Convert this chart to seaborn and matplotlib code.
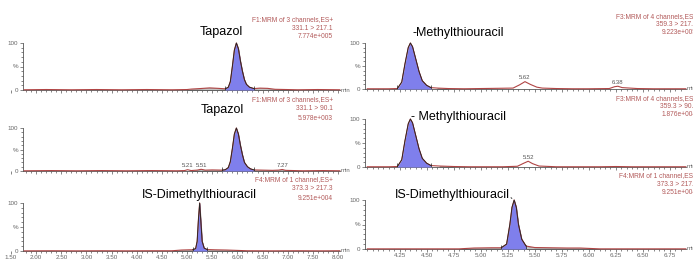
import numpy as np
import matplotlib
matplotlib.use('Agg')
import matplotlib.pyplot as plt
import matplotlib.ticker as mticker
import seaborn as sns

# --- Left column: Tapazol runs (time in min, intensity in %) ---
t_L1 = [1.76, 2.20, 2.70, 3.20, 3.70, 4.20, 4.70, 5.00, 5.09, 5.25, 5.45, 5.62, 5.76, 5.82, 5.86, 5.90,
        5.94, 5.98, 6.02, 6.06, 6.10, 6.14, 6.18, 6.24, 6.33, 6.45, 6.60, 6.75, 7.20, 7.60, 8.04]
y_L1 = [0.5, 1.0, 0.5, 1.0, 0.5, 1.0, 0.5, 1.0, 2.0, 3.0, 4.5, 3.5, 2.5, 6, 18, 50,
        85, 100, 88, 62, 40, 22, 12, 6, 3, 4, 3.5, 1.5, 0.5, 1.0, 0.5]

t_L2 = [1.76, 2.30, 2.80, 3.30, 3.80, 4.30, 4.80, 4.95, 5.01, 5.08, 5.20, 5.28, 5.36, 5.50, 5.70, 5.76,
        5.82, 5.86, 5.90, 5.94, 5.98, 6.02, 6.06, 6.10, 6.14, 6.20, 6.26, 6.33, 6.50, 6.70, 6.82, 6.89,
        6.96, 7.30, 7.70, 8.04]
y_L2 = [0.5, 1, 0.5, 1, 0.5, 1, 0.5, 1, 3, 1, 2, 4, 2, 2.5, 2, 3,
        8, 22, 52, 86, 100, 86, 60, 38, 20, 10, 5, 2.5, 2, 1.5, 2, 3.5,
        1.5, 0.5, 1, 0.5]

t_L3 = [1.76, 2.30, 2.80, 3.30, 3.80, 4.30, 4.70, 4.89, 5.05, 5.11, 5.17, 5.20, 5.225, 5.25, 5.275,
        5.30, 5.34, 5.40, 5.55, 5.78, 6.20, 6.70, 7.20, 7.70, 8.04]
y_L3 = [0.3, 0.5, 0.3, 0.5, 0.3, 0.5, 0.5, 2, 2.5, 2.5, 5, 20, 65, 100, 60,
        20, 6, 3, 2.5, 2, 0.5, 0.3, 0.5, 0.3, 0.5]

# --- Right column: Methylthiouracil runs ---
t_R1 = [3.95, 4.05, 4.15, 4.23, 4.27, 4.30, 4.33, 4.35, 4.37, 4.40, 4.43, 4.46, 4.50, 4.54, 4.60, 4.70,
        4.85, 5.00, 5.16, 5.30, 5.36, 5.41, 5.46, 5.52, 5.57, 5.70, 5.85, 6.00, 6.19, 6.24, 6.27, 6.31,
        6.45, 6.60, 6.75, 6.90]
y_R1 = [0.5, 0.5, 0.5, 1, 15, 55, 90, 100, 92, 65, 38, 18, 8, 3, 2, 1,
        0.5, 1, 1.5, 2, 9, 16, 10, 4, 2, 1, 0.5, 0.5, 1, 5, 6, 3,
        1, 0.5, 0.5, 0.5]

t_R2 = [3.95, 4.05, 4.15, 4.23, 4.27, 4.30, 4.33, 4.35, 4.37, 4.40, 4.43, 4.46, 4.50, 4.54, 4.62, 4.75,
        4.90, 5.05, 5.20, 5.34, 5.40, 5.44, 5.48, 5.54, 5.70, 5.90, 6.10, 6.25, 6.40, 6.60, 6.75, 6.90]
y_R2 = [0.5, 0.5, 0.5, 1, 15, 55, 90, 100, 92, 65, 38, 18, 8, 3, 2, 1,
        0.5, 0.5, 0.5, 1.5, 8, 12, 7, 2, 0.5, 0.5, 0.5, 1, 0.5, 0.5, 0.5, 0.5]

t_R3 = [3.95, 4.20, 4.50, 4.80, 4.94, 5.10, 5.19, 5.24, 5.27, 5.29, 5.31, 5.33, 5.35, 5.38, 5.42, 5.50,
        5.65, 5.80, 5.92, 6.10, 6.40, 6.70, 6.90]
y_R3 = [0.3, 0.3, 0.3, 0.3, 2, 2.5, 2.5, 10, 50, 85, 100, 85, 50, 20, 6, 3,
        2.5, 2, 2, 0.3, 0.3, 0.3, 0.3]

# integration windows, grey humps, small peak labels
integ = {'L1': (5.76, 6.33), 'L2': (5.70, 6.33), 'L3': (5.11, 5.40),
         'R1': (4.23, 4.54), 'R2': (4.23, 4.54), 'R3': (5.19, 5.42)}
grey = {'L1': (5.09, 6.75), 'L2': (5.20, 6.96), 'L3': (4.89, 5.78),
        'R1': (4.56, 4.64), 'R2': (4.58, 4.66), 'R3': (4.94, 5.92)}
peak_t = {'L2': [5.01, 5.28, 6.89], 'R1': [5.41, 6.27], 'R2': [5.44]}
peak_txt = {'L2': ['5.21', '5.51', '7.27'], 'R1': ['5.62', '6.38'], 'R2': ['5.52']}

headers = {
    'L1': ['F1:MRM of 3 channels,ES+', '331.1 > 217.1', '7.774e+005'],
    'L2': ['F1:MRM of 3 channels,ES+', '331.1 > 90.1', '5.978e+003'],
    'L3': ['F4:MRM of 1 channel,ES+', '373.3 > 217.3', '9.251e+004'],
    'R1': ['F3:MRM of 4 channels,ES+', '359.3 > 217.1', '9.223e+005'],
    'R2': ['F3:MRM of 4 channels,ES+', '359.3 > 90.1', '1.876e+004'],
    'R3': ['F4:MRM of 1 channel,ES+', '373.3 > 217.3', '9.251e+004'],
}

W, H = 693, 261
sns.set_theme(style='white')
plt.rcParams['font.family'] = ['Liberation Sans', 'DejaVu Sans']

TRACE = '#b04444'
FILL = '#7f7fec'
TICKC = '#666666'
HEADC = '#b25a5a'

fig = plt.figure(figsize=(W / 100, H / 100), dpi=100)


def make_ax(x0, x1, y100, y0):
    return fig.add_axes([x0 / W, 1 - y0 / H, (x1 - x0) / W, (y0 - y100) / H])


# pixel boxes: (left, right, y at 100%, y at 0%)
boxes = {'L1': (10, 340, 43, 90), 'L2': (10, 340, 128, 171), 'L3': (10, 340, 203, 251),
         'R1': (365, 686, 43, 89), 'R2': (365, 686, 119, 167), 'R3': (365, 686, 200, 249)}
data = {'L1': (t_L1, y_L1), 'L2': (t_L2, y_L2), 'L3': (t_L3, y_L3),
        'R1': (t_R1, y_R1), 'R2': (t_R2, y_R2), 'R3': (t_R3, y_R3)}

axes = {}
for key, (x0, x1, y100, y0) in boxes.items():
    ax = make_ax(x0, x1, y100, y0)
    axes[key] = ax
    t = np.array(data[key][0])
    y = np.array(data[key][1])
    left = key.startswith('L')

    g0, g1 = grey[key]
    ax.fill_between(t, 0, y, where=(t >= g0) & (t <= g1), interpolate=True,
                    color='#c4c4c4', edgecolor='#8a8a8a', lw=0.4, zorder=2)
    i0, i1 = integ[key]
    m = (t >= i0) & (t <= i1)
    ax.fill_between(t, 0, y, where=m, color=FILL, lw=0, zorder=3)
    sns.lineplot(x=t, y=y, ax=ax, color=TRACE, lw=0.8, zorder=4, clip_on=False)
    ax.plot(t[m], y[m], color='#222222', lw=0.6, zorder=5, clip_on=False)
    ax.vlines([i0, i1], 0, 9, color='#222222', lw=0.5, zorder=5)

    for pt, txt in zip(peak_t.get(key, []), peak_txt.get(key, [])):
        ax.annotate(txt, (pt, np.interp(pt, t, y)), xytext=(0, 1), textcoords='offset points',
                    ha='center', va='bottom', fontsize=4.3, color='#555555')

    if left:
        ax.set_xlim(1.48, 8.04)
        ax.spines['left'].set_position(('data', 1.74))
        ax.spines['bottom'].set_bounds(1.74, 8.04)
        ax.xaxis.set_major_locator(mticker.MultipleLocator(0.5))
        ax.xaxis.set_minor_locator(mticker.FixedLocator(np.arange(1.8, 8.05, 0.1)))
    else:
        ax.set_xlim(3.93, 6.90)
        ax.xaxis.set_major_locator(mticker.FixedLocator(np.arange(4.25, 6.8, 0.25)))
        ax.xaxis.set_minor_locator(mticker.FixedLocator(np.arange(3.95, 6.9, 0.05)))
    ax.xaxis.set_major_formatter(mticker.FormatStrFormatter('%.2f'))
    ax.set_ylim(0, 100)
    ax.yaxis.set_major_locator(mticker.FixedLocator([0, 50, 100]))
    ax.yaxis.set_major_formatter(mticker.FixedFormatter(['0', '%', '100']))
    ax.yaxis.set_minor_locator(mticker.MultipleLocator(10))
    ax.set_xlabel('')
    ax.set_ylabel('')
    ax.set_facecolor('none')
    for s in ['top', 'right']:
        ax.spines[s].set_visible(False)
    for s in ['left', 'bottom']:
        ax.spines[s].set_color('#555555')
        ax.spines[s].set_linewidth(0.6)
    ax.tick_params(which='both', direction='out', color='#555555', width=0.5,
                   labelsize=4.5, labelcolor=TICKC, pad=1.0,
                   bottom=True, left=True)
    ax.tick_params(which='major', length=2.5)
    ax.tick_params(which='minor', length=1.5)
    ax.tick_params(axis='x', which='major', pad=0.5)
    if key[1] != '3':
        ax.tick_params(axis='x', labelbottom=False)
    ax.text(1.003, 0, 'min', transform=ax.transAxes, fontsize=4.3, color=TICKC,
            ha='left', va='center', clip_on=False)

# header texts (top right of each trace)
head_pos = {'L1': (333, [20, 28, 37]), 'L2': (333, [100, 109, 118]), 'L3': (333, [180, 189, 198]),
            'R1': (697, [17, 25, 33]), 'R2': (697, [99, 107, 115]), 'R3': (697, [176, 185, 193])}
for key, (xr, ys) in head_pos.items():
    for line, yy in zip(headers[key], ys):
        fig.text(xr / W, 1 - yy / H, line, ha='right', va='center', fontsize=4.8, color=HEADC)

# compound labels
lab = dict(fontsize=9, color='black')
fig.text(221 / W, 1 - 32 / H, 'Tapazol', ha='center', va='center', **lab)
fig.text(222 / W, 1 - 110 / H, 'Tapazol', ha='center', va='center', **lab)
fig.text(199 / W, 1 - 195 / H, 'IS-Dimethylthiouracil', ha='center', va='center', **lab)
fig.text(413 / W, 1 - 33 / H, '-Methylthiouracil', ha='left', va='center', **lab)
fig.text(411 / W, 1 - 117 / H, '- Methylthiouracil', ha='left', va='center', **lab)
fig.text(510 / W, 1 - 195 / H, 'IS-Dimethylthiouracil', ha='right', va='center', **lab)
axes['R3'].annotate('', xy=(5.31, 100), xytext=(5.26, 108), annotation_clip=False,
                    arrowprops=dict(arrowstyle='-', color='black', lw=0.6))

fig.savefig('out.png', dpi=100)
